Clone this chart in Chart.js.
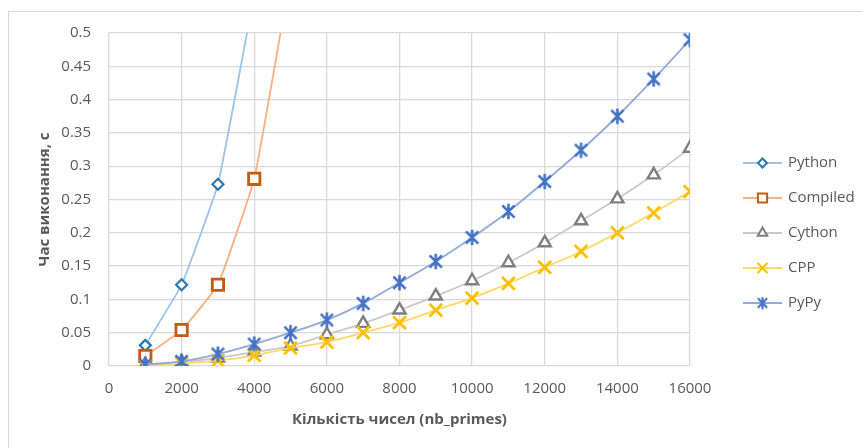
<!DOCTYPE html>
<html><head><meta charset="utf-8">
<script src="https://cdn.jsdelivr.net/npm/chart.js@4"></script>
<style>
html,body{margin:0;padding:0;background:#fff;overflow:hidden}
#wrap{position:relative;width:862px;height:448px;overflow:hidden}
#frame{position:absolute;left:8px;top:11px;width:900px;height:470px;border:1px solid #d9d9d9;box-sizing:border-box}
canvas{position:absolute;left:0;top:0}
</style></head><body>
<div id="wrap"><div id="frame"></div><canvas id="c" width="862" height="448"></canvas></div>
<script>
const nbPrimes = [1000,2000,3000,4000,5000,6000,7000,8000,9000,10000,11000,12000,13000,14000,15000,16000];
const seriesNames = ['Python','Compiled','Cython','CPP','PyPy'];
const python   = [0.031,0.122,0.273,0.56,0.90,null,null,null,null,null,null,null,null,null,null,null];
const compiled = [0.015,0.054,0.122,0.281,0.59,1.00,null,null,null,null,null,null,null,null,null,null];
const cython   = [0.002,0.006,0.012,0.021,0.030,0.047,0.064,0.084,0.105,0.128,0.155,0.185,0.218,0.251,0.287,0.327];
const cpp      = [0.001,0.004,0.008,0.016,0.027,0.036,0.050,0.065,0.084,0.102,0.124,0.148,0.172,0.200,0.230,0.262];
const pypy     = [0.002,0.007,0.018,0.033,0.050,0.069,0.094,0.125,0.157,0.193,0.232,0.277,0.324,0.375,0.431,0.490];
const xTicks = [0,2000,4000,6000,8000,10000,12000,14000,16000];
const yTicks = ['0','0.05','0.1','0.15','0.2','0.25','0.3','0.35','0.4','0.45','0.5'];

function starImg(size, color, lw){
  const c = document.createElement('canvas');
  c.width = size; c.height = size;
  const g = c.getContext('2d');
  const m = size/2, d = size*0.36, v = size*0.46;
  g.strokeStyle = color; g.lineWidth = lw; g.lineCap = 'butt';
  g.beginPath();
  g.moveTo(m-d,m-d); g.lineTo(m+d,m+d);
  g.moveTo(m+d,m-d); g.lineTo(m-d,m+d);
  g.moveTo(m,m-v); g.lineTo(m,m+v);
  g.stroke();
  return c;
}
const starBig = starImg(17,'#4472C4',2.6);
const starSmall = starImg(13,'#4472C4',2.2);

const styles = [
  {line:'#9DC3E6', mark:'#2E75B6', fill:'#ffffff', ps:'rectRot', r:5.5, bw:2.2, lr:4.5, lbw:2, t:0.1},
  {line:'#F4B183', mark:'#C55A11', fill:'#ffffff', ps:'rect', r:8, bw:2.8, lr:6.5, lbw:2.4, t:0.1},
  {line:'#C9C9C9', mark:'#7F7F7F', fill:'#ffffff', ps:'triangle', r:7, bw:2.4, lr:5.5, lbw:2.2, t:0.3},
  {line:'#FFD966', mark:'#FFC000', fill:'#FFC000', ps:'crossRot', r:9, bw:2.8, lr:7, lbw:2.4, t:0.3},
  {line:'#8FAADC', mark:'#4472C4', fill:'#4472C4', ps:starBig, r:8, bw:2.5, lr:6, lbw:2, legendPs:starSmall, t:0.3}
];
const values = [python, compiled, cython, cpp, pypy];

const datasets = values.map((vals,i)=>({
  label: seriesNames[i],
  data: nbPrimes.map((x,j)=>({x:x, y:vals[j]})),
  borderColor: styles[i].line,
  borderWidth: 1.8,
  tension: styles[i].t,
  pointStyle: styles[i].ps,
  pointRadius: styles[i].r,
  pointBorderWidth: styles[i].bw,
  pointBorderColor: styles[i].mark,
  pointBackgroundColor: styles[i].fill,
  order: values.length - 1 - i
}));

const FONT = '"Open Sans", "Noto Sans", sans-serif';
const TXT = '#595959';

const legendPlugin = {
  id:'xlLegend',
  afterDraw(chart){
    const ctx = chart.ctx;
    ctx.save();
    datasets.forEach((ds,i)=>{
      const st = styles[i];
      const y = 163 + i*35;
      ctx.strokeStyle = st.line; ctx.lineWidth = 2;
      ctx.beginPath(); ctx.moveTo(743,y); ctx.lineTo(782,y); ctx.stroke();
      ctx.strokeStyle = st.mark; ctx.fillStyle = st.fill;
      Chart.helpers.drawPoint(ctx, {pointStyle: st.legendPs || st.ps, radius: st.lr, borderWidth: st.lbw, rotation: 0}, 762.5, y);
      ctx.fillStyle = TXT; ctx.font = '15px ' + FONT; ctx.textBaseline = 'middle'; ctx.textAlign = 'left';
      ctx.fillText(ds.label, 788, y);
    });
    ctx.restore();
  }
};

new Chart(document.getElementById('c'), {
  type:'line',
  data:{datasets: datasets},
  options:{
    responsive:false, animation:false, devicePixelRatio:1,
    layout:{padding:{left:0,right:172,top:33,bottom:0}},
    plugins:{legend:{display:false}, tooltip:{enabled:false}},
    scales:{
      x:{type:'linear', min:0, max:16000,
        afterBuildTicks(s){ s.ticks = xTicks.map(v=>({value:v})); },
        ticks:{color:TXT, font:{family:FONT,size:15}, padding:14, maxRotation:0, autoSkip:false, callback:(v)=>String(v)},
        grid:{color:'#d9d9d9', lineWidth:1.3, drawTicks:false},
        border:{display:false},
        title:{display:true, text:'Кількість чисел (nb_primes)', color:TXT, font:{family:FONT,size:15,weight:'bold'}, padding:{top:0,bottom:19}},
        afterFit(s){ s.height = 82; }
      },
      y:{min:0, max:0.5,
        afterBuildTicks(s){ s.ticks = yTicks.map(t=>({value:parseFloat(t)})); },
        ticks:{color:TXT, font:{family:FONT,size:15}, padding:18, autoSkip:false, callback:(v,i)=>yTicks[i]},
        grid:{color:'#d9d9d9', lineWidth:1.3, drawTicks:false},
        border:{display:false},
        title:{display:true, text:'Час виконання, с', color:TXT, font:{family:FONT,size:15,weight:'bold'}, padding:{top:36,bottom:0}},
        afterFit(s){ s.width = 109; }
      }
    }
  },
  plugins:[legendPlugin]
});
</script>
</body></html>
